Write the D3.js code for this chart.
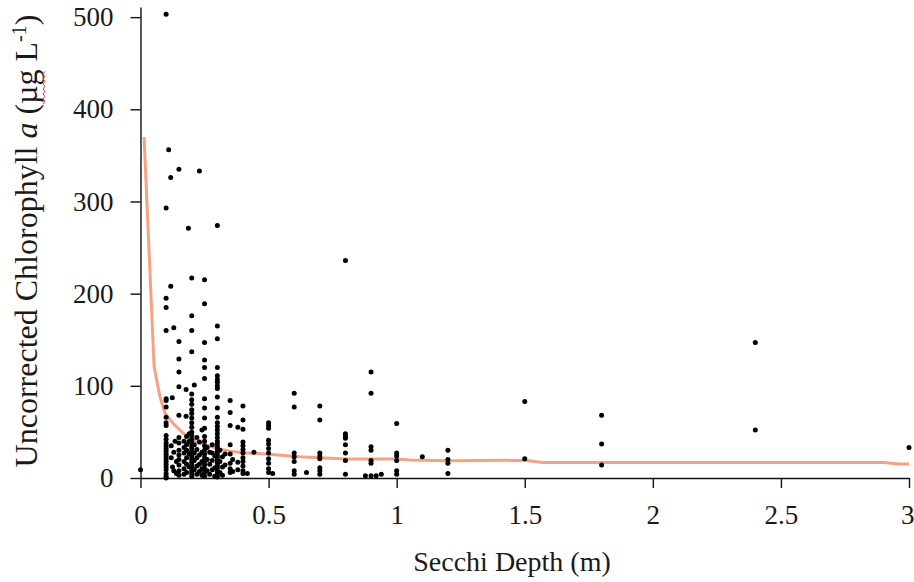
<!DOCTYPE html>
<html>
<head>
<meta charset="utf-8">
<script src="https://cdn.jsdelivr.net/npm/d3@7"></script>
<style>
    body { margin: 0; background: #fff; }
    svg text { font-family: "Liberation Serif", "Times New Roman", serif; fill: #1a1a1a; }
</style>
</head>
<body>
<div class="box"></div>
<script>
// secchi depth columns (m) and the chlorophyll values read at each of them
const depths = [
    0, 0.1, 0.11, 0.118, 0.124, 0.13, 0.12, 0.125, 0.135, 0.14,
    0.15, 0.17, 0.178, 0.18, 0.187, 0.19, 0.2, 0.21, 0.22, 0.23,
    0.24, 0.25, 0.26, 0.27, 0.28, 0.29, 0.3, 0.31, 0.32, 0.33,
    0.35, 0.36, 0.38, 0.4, 0.417, 0.443, 0.5, 0.516, 0.6, 0.648,
    0.7, 0.8, 0.878, 0.9, 0.92, 0.94, 1.0, 1.1, 1.2, 1.5,
    1.8, 2.4, 3.0
]
const chlValues = [
    [9],
    [503, 293, 195, 185, 160, 86, 84, 77, 66, 60, 57, 46, 42, 38, 35, 32, 29, 26, 24, 21, 18, 15, 12, 9, 5, 2, 0],
    [356],
    [326, 208],
    [87],
    [163, 28, 8],
    [35, 22],
    [12],
    [40],
    [18, 5],
    [335, 148, 129, 115, 99, 68, 44, 38, 30, 25, 20, 14, 8, 3],
    [40, 33, 27, 18, 10, 4],
    [96, 67],
    [45, 36, 30, 22, 15, 6],
    [271],
    [48, 40, 26, 12],
    [217, 176, 160, 137, 91, 85, 80, 74, 70, 65, 60, 55, 50, 46, 42, 38, 35, 32, 29, 26, 23, 20, 17, 14, 11, 8, 5, 2],
    [101, 36, 27, 19, 9],
    [44, 31, 22, 13, 4],
    [333, 39, 25, 15, 7],
    [52, 28, 18, 10, 3],
    [215, 189, 147, 128, 120, 108, 86, 76, 65, 54, 45, 40, 35, 30, 26, 22, 18, 14, 10, 6, 2],
    [33, 20, 8],
    [28, 15, 4],
    [36, 27, 19, 9],
    [24, 11, 2],
    [274, 165, 151, 120, 111, 107, 104, 100, 97, 88, 76, 66, 60, 56, 52, 48, 44, 40, 37, 34, 31, 28, 25, 22, 19, 16, 13, 10, 7, 4, 1],
    [30, 18, 6],
    [23, 12, 3],
    [26, 14],
    [84, 71, 57, 36, 26, 16, 10, 6],
    [20, 7],
    [55, 17, 9],
    [78, 63, 53, 39, 35, 31, 27, 22, 18, 13, 8, 5],
    [5],
    [28],
    [60, 57, 54, 41, 37, 32, 27, 21, 16, 10, 6],
    [5],
    [92, 77, 27, 23, 18, 8, 4],
    [6],
    [78, 63, 27, 24, 21, 11, 8, 4],
    [236, 48, 45, 43, 36, 27, 19, 4],
    [2.5],
    [115, 92, 34, 30, 19, 16, 2.5],
    [2.5],
    [4],
    [59, 27, 24, 19, 8, 4],
    [23],
    [30, 20, 16, 5],
    [83, 21],
    [68, 37, 14],
    [147, 52],
    [33]
]

// fitted trend line
const fitX = [0.014, 0.053, 0.076, 0.096, 0.128, 0.167, 0.206, 0.258, 0.3, 0.35, 0.4, 0.5, 0.62, 0.7, 0.8, 1.0, 1.05, 1.2, 1.5, 1.57, 2.9, 2.96, 3.0]
const fitY = [370, 121, 88, 70, 59, 48.5, 41, 35.8, 32, 29, 27.5, 25.7, 23, 22, 20.6, 20.6, 19.5, 18.8, 19.2, 16.8, 16.8, 15.2, 15.2]

const xTicks = [0, 0.5, 1, 1.5, 2, 2.5, 3]
const yTicks = [0, 100, 200, 300, 400, 500]

let points = []
depths.forEach((d, i) => {
    for (let c of chlValues[i]) points.push([d, c])
})
let fit = fitX.map((d, i) => [d, fitY[i]])

const W = 914, H = 582

let svg = d3.select('.box')
    .append('svg')
    .attr('width', W)
    .attr('height', H)

let x = d3.scaleLinear().domain([0, 3]).range([140.5, 909])
let y = d3.scaleLinear().domain([0, 511]).range([478, 7])

// axes
let xAxis = svg.append('g')
    .attr('transform', `translate(0, ${y(0)})`)
    .call(d3.axisBottom(x).tickValues(xTicks).tickSize(10).tickSizeOuter(0).tickPadding(17)
        .tickFormat(d => d))
let yAxis = svg.append('g')
    .attr('transform', `translate(${x(0)}, 0)`)
    .call(d3.axisLeft(y).tickValues(yTicks).tickSize(10).tickSizeOuter(0).tickPadding(17))

for (let g of [xAxis, yAxis]) {
    g.selectAll('path, line').attr('stroke', '#111').attr('stroke-width', 1.4)
    g.selectAll('text')
        .style('font-size', '27px')
        .style('font-family', '"Liberation Serif", "Times New Roman", serif')
        .attr('fill', '#1a1a1a')
}
// last label sits on the right edge, keep it inside the page
xAxis.selectAll('.tick text').filter(d => d === 3).attr('text-anchor', 'end').attr('x', 5)

// trend line
svg.append('path')
    .datum(fit)
    .attr('fill', 'none')
    .attr('stroke', '#f7a183')
    .attr('stroke-width', 3)
    .attr('stroke-linejoin', 'round')
    .attr('d', d3.line().x(d => x(d[0])).y(d => y(d[1])))

// data points
svg.append('g')
    .selectAll('circle')
    .data(points)
    .join('circle')
    .attr('cx', d => x(d[0]))
    .attr('cy', d => y(d[1]))
    .attr('r', 2.5)
    .attr('fill', '#000')

// axis titles
svg.append('text')
    .attr('x', 512)
    .attr('y', 571)
    .attr('text-anchor', 'middle')
    .style('font-size', '28px')
    .text('Secchi Depth (m)')

let yl = svg.append('text')
    .attr('transform', 'translate(37, 241) rotate(-90)')
    .attr('text-anchor', 'middle')
    .style('font-size', '32px')
yl.append('tspan').text('Uncorrected Chlorophyll ')
yl.append('tspan').style('font-style', 'italic').text('a')
yl.append('tspan').text(' (')
yl.append('tspan').text('µg')
yl.append('tspan').text(' L')
yl.append('tspan').attr('dy', -11).style('font-size', '20px').text('-1')
yl.append('tspan').attr('dy', 11).text(')')

// red wavy underline under "µg" (spell check mark in the original)
let n0 = 'Uncorrected Chlorophyll a ('.length
let p0 = yl.node().getStartPositionOfChar(n0)
let p1 = yl.node().getEndPositionOfChar(n0 + 1)
let wave = []
for (let t = p0.x; t <= p1.x; t += 2.5) wave.push([t, 6 + ((Math.round((t - p0.x) / 2.5)) % 2 ? 2 : 0)])
svg.append('path')
    .attr('transform', 'translate(37, 241) rotate(-90)')
    .attr('fill', 'none')
    .attr('stroke', '#e23b3b')
    .attr('stroke-width', 1)
    .attr('d', d3.line()(wave))
</script>
</body>
</html>
